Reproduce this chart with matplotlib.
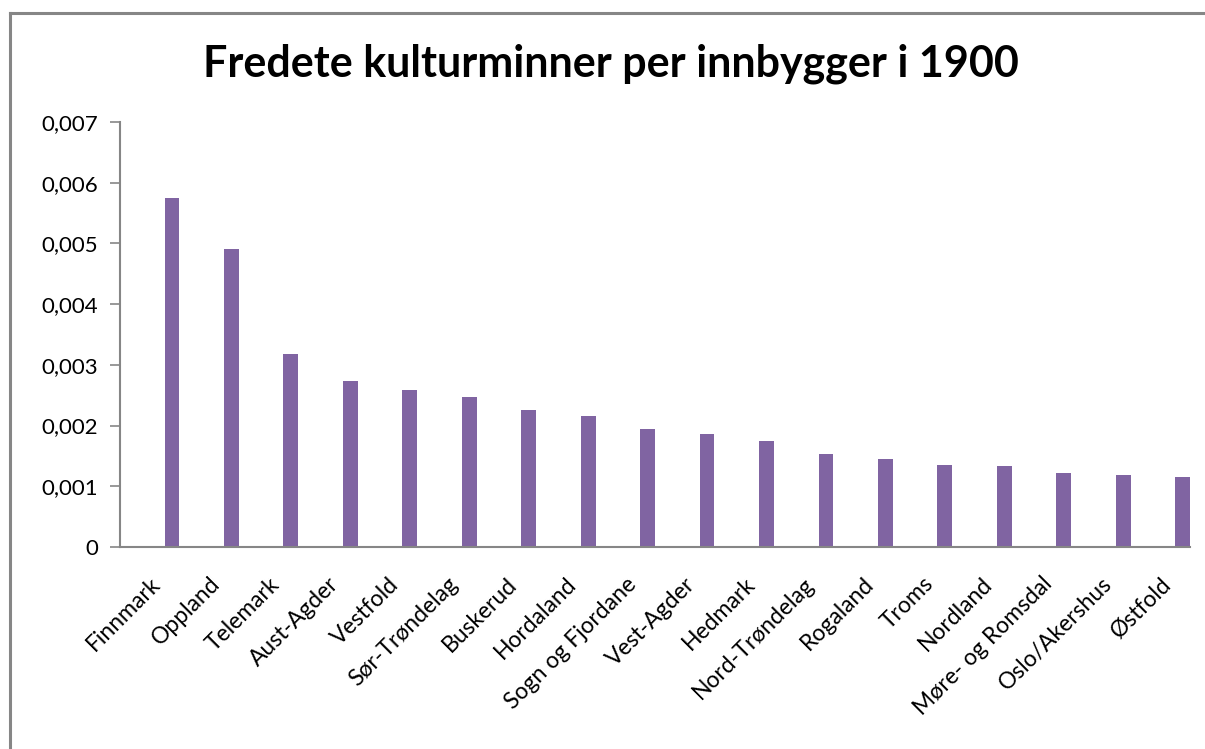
import matplotlib.pyplot as plt
from matplotlib.lines import Line2D
from matplotlib.ticker import FuncFormatter

fylker = ['Finnmark', 'Oppland', 'Telemark', 'Aust-Agder', 'Vestfold',
          'Sør-Trøndelag', 'Buskerud', 'Hordaland', 'Sogn og Fjordane',
          'Vest-Agder', 'Hedmark', 'Nord-Trøndelag', 'Rogaland', 'Troms',
          'Nordland', 'Møre- og Romsdal', 'Oslo/Akershus', 'Østfold']
per_innbygger = [0.00575, 0.00491, 0.00318, 0.00273, 0.00259, 0.00247,
                 0.00226, 0.00216, 0.00194, 0.00186, 0.00175, 0.00153,
                 0.00145, 0.00135, 0.00133, 0.00122, 0.00119, 0.00115]
y_ticks = [0, 0.001, 0.002, 0.003, 0.004, 0.005, 0.006, 0.007]

plt.rcParams['font.family'] = ['Lato', 'DejaVu Sans']
grey = '#868686'

fig = plt.figure(figsize=(12.05, 7.49), dpi=100)
ax = fig.add_axes([0.0996, 0.2697, 0.8880, 0.5674])

x = list(range(len(fylker)))
ax.bar([i + 0.375 for i in x], per_innbygger, width=0.25, color='#8064A2')

ax.set_xlim(-0.5, len(fylker) - 0.5)
ax.set_ylim(0, 0.007)
ax.set_yticks(y_ticks)
ax.yaxis.set_major_formatter(FuncFormatter(
    lambda v, p: '0' if v == 0 else f'{v:.3f}'.replace('.', ',')))
ax.set_xticks(x)
ax.set_xticklabels(fylker, rotation=45, ha='right', rotation_mode='anchor')

ax.tick_params(axis='y', length=7, width=1.2, color=grey, labelsize=16, pad=9)
ax.tick_params(axis='x', length=0, labelsize=16.5, pad=19)
for s in ['top', 'right']:
    ax.spines[s].set_visible(False)
for s in ['left', 'bottom']:
    ax.spines[s].set_color(grey)
    ax.spines[s].set_linewidth(1.5)

fig.text(0.507, 0.915, 'Fredete kulturminner per innbygger i 1900',
         ha='center', va='center', fontsize=31, fontweight='bold')

# chart border (cut off on right and bottom)
fig.add_artist(Line2D([10 / 1205, 10 / 1205], [0, 1 - 13 / 749],
                      transform=fig.transFigure, color=grey, lw=2.2))
fig.add_artist(Line2D([10 / 1205, 1], [1 - 13 / 749, 1 - 13 / 749],
                      transform=fig.transFigure, color=grey, lw=2.2))

fig.savefig('out.png', dpi=100)
